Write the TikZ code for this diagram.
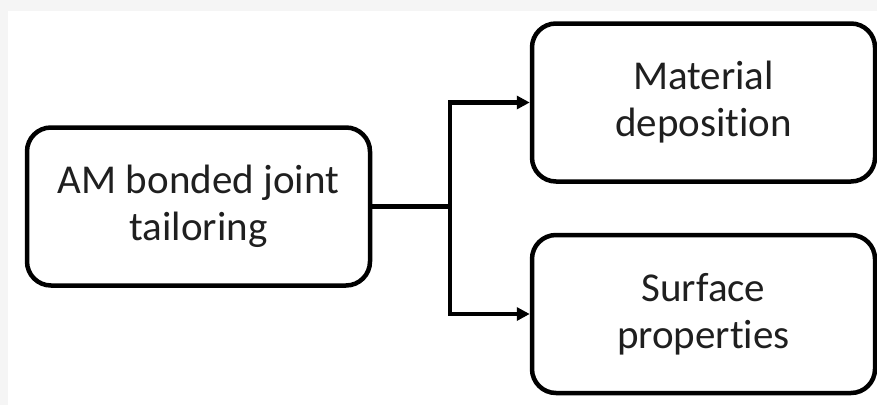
\documentclass[tikz,border=0pt]{standalone}
\usepackage{fontspec}
\setmainfont[Ligatures=NoCommon]{Carlito}
\usetikzlibrary{arrows.meta, positioning, calc}

\begin{document}
\begin{tikzpicture}[x=1pt,y=-1pt,>={Triangle[length=13pt,width=13pt]},
  box/.style={draw, line width=4.5pt, rounded corners=24pt, minimum width=343pt,
    minimum height=158pt, align=center, text=black!88,
    font=\fontsize{41}{47}\selectfont},
  link/.style={line width=4.5pt}]

% --- sfondo
\fill[black!4] (0,0) rectangle (877,405);
\fill[white] (8,11) rectangle (877,405);
\useasboundingbox (0,0) rectangle (877,405);

% --- blocco di partenza
\node[box] (tailor) at (198.5,206.5) {AM bonded joint\\tailoring};

% --- blocchi di destra
\node[box] (depo) at (703.5,102.5) {Material\\deposition};
\node[box] (surf) at (703.5,314) {Surface\\properties};

% --- collegamenti
\coordinate (split) at (450,206.5);
\draw[link] (tailor.east) -- (split);
\draw[link,->] (split) |- (depo.west);
\draw[link,->] (split) |- (surf.west);
\end{tikzpicture}
\end{document}
